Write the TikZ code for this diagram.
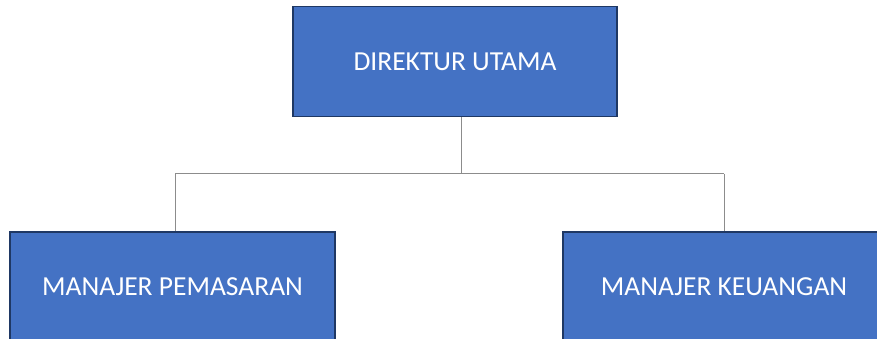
\documentclass[tikz,border=0pt]{standalone}
\usepackage{fontspec}
\setmainfont{Carlito}
\definecolor{boxfill}{HTML}{4472C4}
\definecolor{boxline}{HTML}{1F3864}
\definecolor{conn}{HTML}{8C8C8C}
\begin{document}
\begin{tikzpicture}[x=1pt,y=-1pt,
  orgbox/.style={draw=boxline,line width=1.5pt,fill=boxfill,text=white,
    minimum width=324pt,minimum height=110pt,inner sep=0pt,
    font=\fontsize{27.5}{32}\selectfont},
  link/.style={draw=conn,line width=1pt}]
\useasboundingbox (0,0) rectangle (877,339);
\begin{scope}
\clip (0,0) rectangle (877,339);
\node[orgbox] (top) at (455,61.5) {DIREKTUR UTAMA};
\node[orgbox,minimum width=325pt] (left) at (172.5,287) {MANAJER PEMASARAN};
\node[orgbox,minimum width=322pt] (right) at (724,287) {MANAJER KEUANGAN};
\coordinate (j) at (461,174);
\coordinate (jl) at (175,174);
\coordinate (jr) at (724,174);
\end{scope}
\draw[link] (top.south -| j) -- (j);
\draw[link] (jl) -- (jr);
\draw[link] (jl) -- (left.north -| jl);
\draw[link] (jr) -- (right.north -| jr);
\end{tikzpicture}
\end{document}
